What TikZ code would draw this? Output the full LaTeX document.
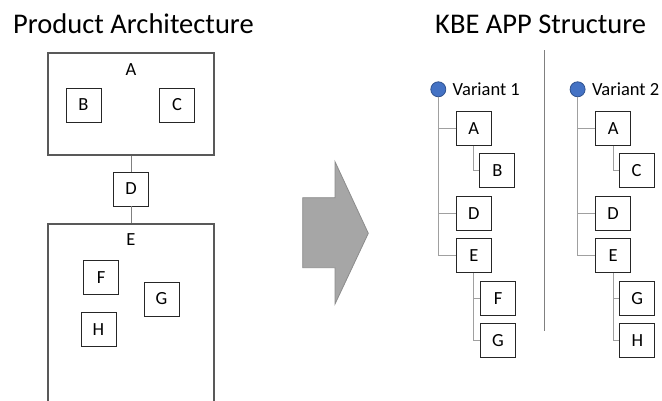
\documentclass[tikz,border=0pt]{standalone}
\usepackage{fontspec}
\setmainfont{Carlito}
\definecolor{boxline}{HTML}{262626}
\definecolor{bigline}{HTML}{595959}
\definecolor{treeline}{HTML}{A0A0A0}
\definecolor{linkline}{HTML}{808080}
\definecolor{arrowfill}{HTML}{A6A6A6}
\definecolor{arrowline}{HTML}{8C8C8C}
\definecolor{dotfill}{HTML}{4472C4}
\definecolor{dotline}{HTML}{2F528F}
\begin{document}
\begin{tikzpicture}[x=1pt,y=-1pt,
  sbox/.style={draw=boxline,line width=0.9pt,fill=white,minimum width=35pt,minimum height=34pt,inner sep=0pt,font=\fontsize{18.5}{20}\selectfont},
  bigbox/.style={draw=bigline,line width=1.3pt,inner sep=0pt},
  lbl/.style={inner sep=0pt,font=\fontsize{18.5}{20}\selectfont},
  title/.style={inner sep=0pt,anchor=base west,font=\fontsize{28.5}{32}\selectfont},
  tree/.style={draw=treeline,line width=1pt},
  link/.style={draw=linkline,line width=1pt},
  dot/.style={circle,draw=dotline,fill=dotfill,line width=0.8pt,minimum size=15pt,inner sep=0pt},
  vlabel/.style={inner sep=0pt,anchor=west,font=\fontsize{18.5}{20}\selectfont}]
\useasboundingbox (0,0) rectangle (662,400);
\fill[white] (0,0) rectangle (662,400);

% titles
\node[title] (t1) at (13,33) {Product Architecture};
\node[title] (t2) at (435,33) {KBE APP Structure};

% left: product architecture
\begin{scope}
\clip (0,0) rectangle (662,400);
\node[bigbox,minimum width=166pt,minimum height=102pt] (bigA) at (131,104) {};
\node[bigbox,minimum width=166pt,minimum height=190pt] (bigE) at (131,319) {};
\end{scope}
\node[lbl] (la) at (131,70) {A};
\node[lbl] (le) at (131,240) {E};
\node[sbox] (pB) at (83.5,105) {B};
\node[sbox] (pC) at (177,105) {C};
\node[sbox] (pD) at (131,189) {D};
\node[sbox] (pF) at (101,277.5) {F};
\node[sbox] (pG) at (161.5,299) {G};
\node[sbox] (pH) at (98.5,329.5) {H};
\draw[link] (bigA.south) -- (pD.north);
\draw[link] (pD.south) -- (bigE.north);

% arrow
\draw[fill=arrowfill,draw=arrowline,line width=0.8pt]
  (302.7,197.7) -- (335,197.7) -- (335,161.7) -- (368.3,233.3) -- (335,304) -- (335,267.7) -- (302.7,267.7) -- cycle;

% separator
\coordinate (s1) at (544.3,50);
\coordinate (s2) at (544.3,331);
\draw[link] (s1) -- (s2);

% variant 1
\node[dot] (v1) at (438.3,89.3) {};
\node[vlabel] (v1t) at (452.5,89) {Variant 1};
\node[sbox] (aA) at (473.8,128.7) {A};
\node[sbox] (aB) at (497.3,170.7) {B};
\node[sbox] (aD) at (473.8,213.3) {D};
\node[sbox] (aE) at (473.8,255.7) {E};
\node[sbox] (aF) at (498,298.2) {F};
\node[sbox] (aG) at (498,340.5) {G};
\draw[tree] (v1.south) |- (aE.west);
\draw[tree] (v1.south |- aA.west) -- (aA.west);
\draw[tree] (v1.south |- aD.west) -- (aD.west);
\draw[tree] (aA.south) |- (aB.west);
\draw[tree] (aE.south) |- (aG.west);
\draw[tree] (aE.south |- aF.west) -- (aF.west);

% variant 2
\node[dot] (v2) at (577.6,89.3) {};
\node[vlabel] (v2t) at (591.8,89) {Variant 2};
\node[sbox] (bA) at (613.1,128.7) {A};
\node[sbox] (bC) at (636.6,170.7) {C};
\node[sbox] (bD) at (613.1,213.3) {D};
\node[sbox] (bE) at (613.1,255.7) {E};
\node[sbox] (bG) at (637.3,298.2) {G};
\node[sbox] (bH) at (637.3,340.5) {H};
\draw[tree] (v2.south) |- (bE.west);
\draw[tree] (v2.south |- bA.west) -- (bA.west);
\draw[tree] (v2.south |- bD.west) -- (bD.west);
\draw[tree] (bA.south) |- (bC.west);
\draw[tree] (bE.south) |- (bH.west);
\draw[tree] (bE.south |- bG.west) -- (bG.west);
\end{tikzpicture}
\end{document}
